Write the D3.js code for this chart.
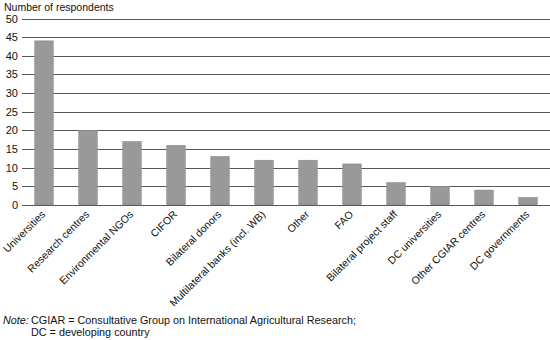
<!DOCTYPE html>
<html>
<head>
<meta charset="utf-8">
<script src="https://cdn.jsdelivr.net/npm/d3@7"></script>
<style>
  body { margin: 0; background: #fff; }
  svg { display: block; font-family: "Liberation Sans", Arial, Helvetica, sans-serif; }
</style>
</head>
<body>
<svg id="chart" width="550" height="340"></svg>
<script>
// Respondent groups and their counts
const categories = [
  "Universities", "Research centres", "Environmental NGOs", "CIFOR",
  "Bilateral donors", "Multilateral banks (incl. WB)", "Other", "FAO",
  "Bilateral project staff", "DC universities", "Other CGIAR centres", "DC governments"
];
const respondents = [44, 20, 17, 16, 13, 12, 12, 11, 6, 5, 4, 2];
const yTicks = [0, 5, 10, 15, 20, 25, 30, 35, 40, 45, 50];

const svg = d3.select("#chart");
const margin = { left: 22, right: 0, top: 18.5, bottom: 135 };
const W = 550, H = 340;

const x = d3.scaleBand()
  .domain(categories)
  .range([margin.left, W - margin.right])
  .paddingInner(0.58)
  .paddingOuter(0.29);

const y = d3.scaleLinear()
  .domain([0, 50])
  .range([205, margin.top]);

// Horizontal gridlines with tick labels
const yAxis = svg.append("g")
  .attr("transform", `translate(${margin.left},0)`)
  .call(d3.axisLeft(y).tickValues(yTicks).tickSize(0).tickPadding(4))
  .call(g => g.select(".domain").remove());
yAxis.selectAll("text").attr("font-size", 11).attr("fill", "#111");

svg.append("g").selectAll("line")
  .data(yTicks)
  .join("line")
  .attr("x1", margin.left)
  .attr("x2", W)
  .attr("y1", d => Math.round(y(d)) + 0.5)
  .attr("y2", d => Math.round(y(d)) + 0.5)
  .attr("stroke", "#5a5a5a")
  .attr("stroke-width", 1);

// Bars
svg.append("g").selectAll("rect")
  .data(respondents)
  .join("rect")
  .attr("x", (d, i) => x(categories[i]))
  .attr("width", x.bandwidth())
  .attr("y", d => y(d))
  .attr("height", d => y(0) - y(d))
  .attr("fill", "#999999")
  .attr("stroke", "#8a8a8a")
  .attr("stroke-width", 0.6);

// Baseline redrawn above bars
svg.append("line")
  .attr("x1", margin.left).attr("x2", W)
  .attr("y1", Math.round(y(0)) + 0.5).attr("y2", Math.round(y(0)) + 0.5)
  .attr("stroke", "#5a5a5a");

// Rotated category labels
const xAxis = svg.append("g")
  .attr("transform", `translate(0,${y(0)})`)
  .call(d3.axisBottom(x).tickSize(0).tickPadding(0))
  .call(g => g.select(".domain").remove());
xAxis.selectAll("text")
  .attr("font-size", 10.5)
  .attr("fill", "#111")
  .attr("text-anchor", "end")
  .attr("dy", null)
  .attr("transform", "translate(0,8) rotate(-45)")
  .attr("y", 0)
  .attr("dominant-baseline", "middle");

// Axis title
svg.append("text")
  .attr("x", 4).attr("y", 11)
  .attr("font-size", 10.5)
  .attr("fill", "#111")
  .text("Number of respondents");

// Note
const note = svg.append("text")
  .attr("x", 3).attr("y", 324)
  .attr("font-size", 10.8)
  .attr("fill", "#111");
note.append("tspan").attr("font-style", "italic").text("Note:");
note.append("tspan").attr("x", 31).text("CGIAR = Consultative Group on International Agricultural Research;");
svg.append("text")
  .attr("x", 31).attr("y", 336)
  .attr("font-size", 10.8)
  .attr("fill", "#111")
  .text("DC = developing country");
</script>
</body>
</html>
